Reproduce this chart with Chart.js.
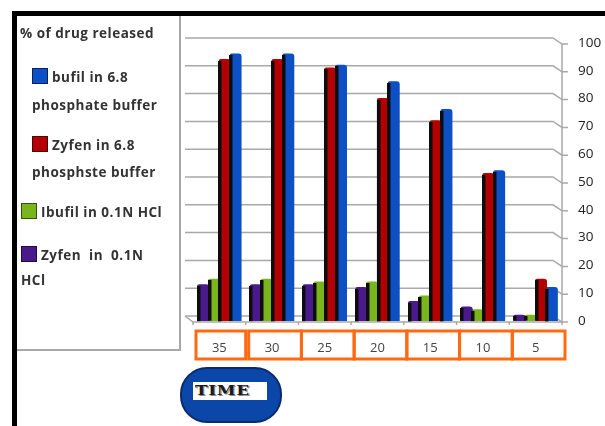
<!DOCTYPE html>
<html><head><meta charset="utf-8">
<script src="https://cdn.jsdelivr.net/npm/chart.js@4"></script>
<style>
html,body{margin:0;padding:0;background:#fff;width:605px;height:426px;overflow:hidden;font-family:"Open Sans","Liberation Sans",sans-serif}
#wrap{position:relative;width:605px;height:426px}
canvas{position:absolute;left:0;top:0}
#frameTop{position:absolute;left:12px;top:11px;width:593px;height:5px;background:#000}
#frameLeft{position:absolute;left:12px;top:11px;width:5px;height:415px;background:#000}
#legend{position:absolute;left:17px;top:16px;width:162px;height:333px;border-right:2px solid #a8a8a8;border-bottom:2px solid #a8a8a8;}
.lg{position:absolute;font-size:13.5px;font-weight:700;letter-spacing:0.5px;color:#333;white-space:pre-wrap;line-height:27px;width:158px}
.sw{display:inline-block;width:14px;height:14px;border:1px solid rgba(0,0,0,0.55);vertical-align:-2px;margin-right:4px}
#time{position:absolute;left:180px;top:367px;width:98px;height:52px;border-radius:27px;background:#0a47a8;border:2px solid #0b2a6b}
#timeBox{position:absolute;left:11px;top:13px;width:74px;height:18px;background:#fff}
#timeTxt{position:absolute;left:2px;top:0px;font-family:"DejaVu Serif",serif;font-weight:bold;font-size:13px;line-height:18px;color:#1a1a1a;text-shadow:1px 1px 0 #8a8a8a;transform:scaleX(1.3);transform-origin:left center;letter-spacing:0.5px}
</style></head>
<body><div id="wrap">
<canvas id="c" width="605" height="426"></canvas>
<div id="frameTop"></div><div id="frameLeft"></div>
<div id="legend"></div>
<div id="time"><div id="timeBox"><div id="timeTxt">TIME</div></div></div>
</div>
<script>
// ---- data ----
const timeLabels = ['35', '30', '25', '20', '15', '10', '5'];
const zyfenHCl   = [13, 13, 13, 12, 7, 5, 2];
const ibufilHCl  = [15, 15, 14, 14, 9, 4, 2];
const zyfenPhos  = [94, 94, 91, 80, 72, 53, 15];
const bufilPhos  = [96, 96, 92, 86, 76, 54, 12];
const seriesNames = ['Zyfen  in  0.1N\nHCl', 'Ibufil in 0.1N HCl', 'Zyfen in 6.8\nphosphste buffer', 'bufil in 6.8\nphosphate buffer'];
const seriesColors = ['#4a1a8c', '#7ab51d', '#b40000', '#0d4fc4'];
const legendTitle = '% of drug released';
const yTicks = [0, 10, 20, 30, 40, 50, 60, 70, 80, 90, 100];

const seriesValues = [zyfenHCl, ibufilHCl, zyfenPhos, bufilPhos];

// ---- legend (HTML) ----
const lg = document.getElementById('legend');
const legendPos = [ // items in order blue, red, green, purple
  {left: 15, top: 47, lh: 28},
  {left: 15, top: 116, lh: 27},
  {left: 4, top: 183, lh: 27},
  {left: 4, top: 227, lh: 25}
];
const t = document.createElement('div');
t.className = 'lg'; t.style.left = '3px'; t.style.top = '4px'; t.textContent = legendTitle;
lg.appendChild(t);
[3, 2, 1, 0].forEach((si, k) => {
  const d = document.createElement('div');
  d.className = 'lg';
  d.style.left = legendPos[k].left + 'px';
  d.style.top = legendPos[k].top + 'px';
  d.style.lineHeight = legendPos[k].lh + 'px';
  const sw = document.createElement('span');
  sw.className = 'sw'; sw.style.background = seriesColors[si];
  d.appendChild(sw);
  d.appendChild(document.createTextNode(seriesNames[si]));
  lg.appendChild(d);
});

// ---- plugins ----
const wall = {
  id: 'wall',
  beforeDatasetsDraw(chart) {
    const {ctx, chartArea: a, scales: {y}} = chart;
    ctx.save();
    ctx.strokeStyle = '#a9a9a9'; ctx.lineWidth = 1.5;
    yTicks.forEach(v => {
      const py = y.getPixelForValue(v);
      ctx.beginPath();
      ctx.moveTo(a.left - 8, py - 5);
      ctx.lineTo(a.right - 9, py - 5);
      ctx.lineTo(a.right, py + 1);
      ctx.lineTo(a.right + 6, py + 1);
      ctx.stroke();
    });
    ctx.beginPath();
    ctx.moveTo(a.right, y.getPixelForValue(100) + 1);
    ctx.lineTo(a.right, y.getPixelForValue(0) + 1);
    ctx.stroke();
    const y0 = y.getPixelForValue(0);
    ctx.beginPath();
    ctx.moveTo(a.left - 8, y0 - 5);
    ctx.lineTo(a.left, y0 + 1);
    ctx.lineTo(a.right, y0 + 1);
    ctx.stroke();
    const w = (a.right - a.left) / timeLabels.length;
    for (let i = 0; i <= timeLabels.length; i++) {
      const px = a.left + i * w;
      ctx.beginPath(); ctx.moveTo(px, y0 + 1); ctx.lineTo(px, y0 + 4); ctx.stroke();
    }
    ctx.restore();
  },
  afterDatasetsDraw(chart) {
    const {ctx} = chart;
    ctx.save();
    chart.data.datasets.forEach((ds, di) => {
      chart.getDatasetMeta(di).data.forEach(el => {
        const left = Math.round(el.x - el.width / 2) - 1;
        ctx.fillStyle = '#0d0d0d';
        ctx.fillRect(left, Math.round(el.y) + 1, 3.5, el.base - el.y - 1);
      });
    });
    ctx.restore();
  },
  afterDraw(chart) {
    const {ctx, chartArea: a} = chart;
    const n = timeLabels.length;
    const w = (a.right - a.left) / n;
    const top = a.bottom + 10, h = 28;
    ctx.save();
    ctx.strokeStyle = '#ff6a13'; ctx.lineWidth = 3;
    for (let i = 0; i < n; i++) {
      ctx.strokeRect(a.left + 3 + i * w, top, w - (i === 0 ? 3 : 0), h);
    }
    ctx.restore();
  }
};

new Chart(document.getElementById('c'), {
  type: 'bar',
  data: {
    labels: timeLabels,
    datasets: seriesValues.map((vals, i) => ({
      label: seriesNames[i],
      data: vals,
      backgroundColor: seriesColors[i],
      borderWidth: 0,
      borderRadius: {topLeft: 2, topRight: 3, bottomLeft: 0, bottomRight: 0},
      borderSkipped: false,
      inflateAmount: 0.6,
      categoryPercentage: 0.82,
      barPercentage: 1.0
    }))
  },
  options: {
    responsive: false,
    animation: false,
    events: [],
    layout: {padding: {left: 193, top: 43, right: 0, bottom: 0}},
    plugins: {legend: {display: false}, tooltip: {enabled: false}},
    scales: {
      x: {
        grid: {display: false, drawTicks: false},
        border: {display: false},
        ticks: {color: '#444', font: {family: 'Open Sans', size: 13}, padding: 19},
        afterFit(s) { s.height = 105; }
      },
      y: {
        position: 'right',
        min: 0, max: 100,
        grid: {display: false, drawTicks: false},
        border: {display: false},
        ticks: {stepSize: 10, color: '#222', font: {family: 'Open Sans', size: 13.5}, padding: 16},
        afterFit(s) { s.width = 43; }
      }
    }
  },
  plugins: [wall]
});
</script>
</body></html>
